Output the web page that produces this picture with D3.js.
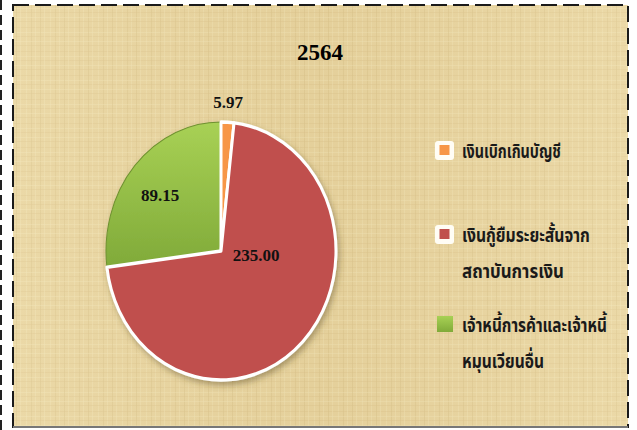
<!doctype html>
<meta charset="utf-8">
<title>2564</title>
<script src="https://cdnjs.cloudflare.com/ajax/libs/d3/7.8.5/d3.min.js"></script>
<style>
body, html {
  margin: 0;
  width: 637px;
  height: 430px;
  background: #fff;
  overflow: hidden;
}
</style>
<div id="chart"></div>
<script>
var width = 637;
var height = 430;

// data
var title = "2564";
var categories = ["เงินเบิกเกินบัญชี", "เงินกู้ยืมระยะสั้นจากสถาบันการเงิน", "เจ้าหนี้การค้าและเจ้าหนี้หมุนเวียนอื่น"];
var legendLines = [["เงินเบิกเกินบัญชี"], ["เงินกู้ยืมระยะสั้นจาก", "สถาบันการเงิน"], ["เจ้าหนี้การค้าและเจ้าหนี้", "หมุนเวียนอื่น"]];
var values = [5.97, 235.00, 89.15];
var labels = ["5.97", "235.00", "89.15"];

var colors = d3.scaleOrdinal()
  .domain(categories)
  .range(["#f79646", "#c0504d", "#9bbb59"]);

var svg = d3.select("#chart").append("svg")
  .attr("width", width)
  .attr("height", height);

var defs = svg.append("defs");

// papyrus-ish texture
var pat = defs.append("pattern")
  .attr("id", "paper")
  .attr("patternUnits", "userSpaceOnUse")
  .attr("width", 24).attr("height", 24);
pat.append("rect").attr("width", 24).attr("height", 24).attr("fill", "#e6d29d");
[2, 7, 11, 16, 20].forEach(function(p, i) {
  pat.append("rect").attr("x", p).attr("y", 0).attr("width", 1).attr("height", 24)
    .attr("fill", i % 2 ? "#d6be86" : "#f0e2b4").attr("opacity", 0.45);
  pat.append("rect").attr("x", 0).attr("y", p + 1).attr("width", 24).attr("height", 1)
    .attr("fill", i % 2 ? "#f1e4bb" : "#d5bd87").attr("opacity", 0.35);
});

var shade = defs.append("linearGradient").attr("id", "shade")
  .attr("x1", 0).attr("y1", 0).attr("x2", 1).attr("y2", 0);
shade.append("stop").attr("offset", "0%").attr("stop-color", "#fff4d0").attr("stop-opacity", 0.2);
shade.append("stop").attr("offset", "50%").attr("stop-color", "#d9c08a").attr("stop-opacity", 0.12);
shade.append("stop").attr("offset", "100%").attr("stop-color", "#fff4d0").attr("stop-opacity", 0.2);

var greenGrad = defs.append("linearGradient").attr("id", "greenGrad")
  .attr("x1", 0).attr("y1", 0).attr("x2", 0).attr("y2", 1);
greenGrad.append("stop").attr("offset", "0%").attr("stop-color", "#a8d155");
greenGrad.append("stop").attr("offset", "100%").attr("stop-color", "#80aa39");

var sh = defs.append("filter").attr("id", "shadow")
  .attr("x", "-20%").attr("y", "-20%").attr("width", "140%").attr("height", "140%");
sh.append("feDropShadow").attr("dx", 2).attr("dy", 3).attr("stdDeviation", 3)
  .attr("flood-color", "#5a4a20").attr("flood-opacity", 0.45);

// page edge dashes and panel
svg.append("line")
  .attr("x1", 1).attr("x2", 1).attr("y1", 0).attr("y2", height)
  .attr("stroke", "#222").attr("stroke-width", 2).attr("stroke-dasharray", "10,5");

svg.append("rect")
  .attr("x", 13).attr("y", 5).attr("width", 615).attr("height", 422)
  .attr("fill", "url(#paper)");
svg.append("rect")
  .attr("x", 13).attr("y", 5).attr("width", 615).attr("height", 422)
  .attr("fill", "url(#shade)")
  .attr("stroke", "#1a1a1a").attr("stroke-width", 2)
  .attr("stroke-dasharray", "16,6");
svg.append("line")
  .attr("x1", 13).attr("x2", 628).attr("y1", 427).attr("y2", 427)
  .attr("stroke", "#777").attr("stroke-width", 2);

// title
svg.append("text")
  .attr("x", 320).attr("y", 60)
  .attr("text-anchor", "middle")
  .attr("font-family", "'Liberation Serif', 'Times New Roman', serif")
  .attr("font-weight", "bold")
  .attr("font-size", 23)
  .attr("fill", "#000")
  .text(title);

// pie
var cx = 221, cy = 251, rx = 115, ry = 129;
var pie = d3.pie().sort(null).value(function(d) { return d; });
var arcs = pie(values);
var arc = d3.arc().innerRadius(0).outerRadius(rx);

var g = svg.append("g")
  .attr("transform", "translate(" + cx + "," + cy + ") scale(1," + (ry / rx) + ")")
  .attr("filter", "url(#shadow)");

var order = [2, 0, 1];
g.selectAll("path")
  .data(order.map(function(i) { return arcs[i]; }))
  .enter().append("path")
  .attr("d", arc)
  .attr("fill", function(d) { return d.index === 2 ? "url(#greenGrad)" : colors(categories[d.index]); })
  .attr("stroke", function(d) { return d.index === 2 ? "#6f9230" : "#fff"; })
  .attr("stroke-width", function(d) { return d.index === 2 ? 1 : 3; })
  .attr("stroke-linejoin", "round");

// data labels
var labelPos = [
  [228, 102],
  [256, 255],
  [160, 195]
];
svg.selectAll(".dlabel")
  .data(arcs)
  .enter().append("text")
  .attr("class", "dlabel")
  .attr("x", function(d) { return labelPos[d.index][0]; })
  .attr("y", function(d) { return labelPos[d.index][1]; })
  .attr("dy", "0.35em")
  .attr("text-anchor", "middle")
  .attr("font-family", "'Liberation Serif', 'Times New Roman', serif")
  .attr("font-weight", "bold")
  .attr("font-size", 17)
  .attr("fill", "#111")
  .text(function(d) { return labels[d.index]; });

// legend
var legendY = [150, 234, 324];
var legend = svg.selectAll(".legend")
  .data(categories)
  .enter().append("g")
  .attr("class", "legend")
  .attr("transform", function(d, i) { return "translate(436," + legendY[i] + ")"; });

legend.filter(function(d, i) { return i < 2; })
  .append("rect")
  .attr("x", -1).attr("y", -9).attr("width", 19).attr("height", 19).attr("rx", 3)
  .attr("fill", "#fffdf5");
legend.append("rect")
  .attr("x", function(d, i) { return i < 2 ? 3.5 : 1; })
  .attr("y", function(d, i) { return i < 2 ? -5 : -8; })
  .attr("width", function(d, i) { return i < 2 ? 10 : 16; })
  .attr("height", function(d, i) { return i < 2 ? 10 : 16; })
  .attr("fill", function(d, i) { return i === 2 ? "url(#greenGrad)" : colors(d); });

// condensed Thai lines: squeeze each line horizontally to the width seen in the chart
var lineWidths = [[99], [128, 102], [145, 82]];
legend.each(function(d, i) {
  var sel = d3.select(this);
  legendLines[i].forEach(function(line, j) {
    var t = sel.append("text")
      .attr("x", 0)
      .attr("y", 0)
      .attr("font-family", "'Noto Sans Thai', 'Noto Sans', 'DejaVu Sans', sans-serif")
      .attr("font-size", 20)
      .attr("font-weight", "bold")
      .attr("fill", "#1a1a1a")
      .text(line);
    var w = t.node().getComputedTextLength();
    var k = Math.min(1, lineWidths[i][j] / w);
    t.attr("transform", "translate(26," + (8 + j * 36) + ") scale(" + k + ",1)");
  });
});
</script>
